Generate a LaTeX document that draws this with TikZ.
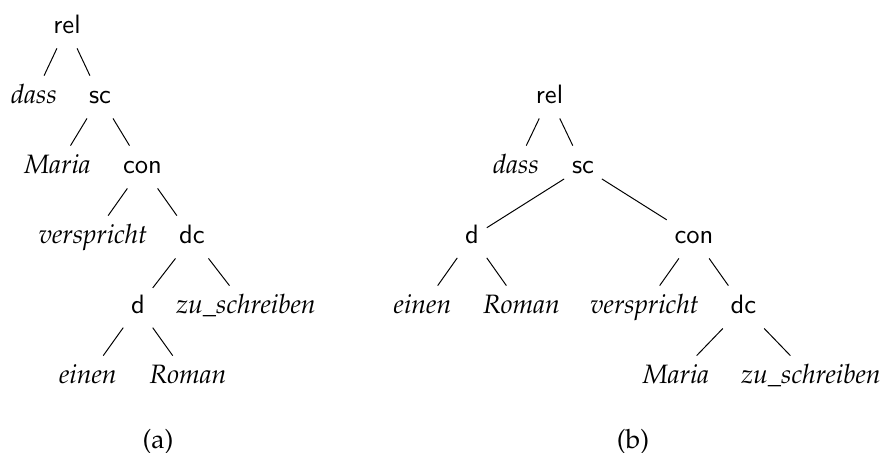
\documentclass[tikz,border=0pt]{standalone}
\IfFileExists{mathpazo.sty}
	{\usepackage[T1]{fontenc}\usepackage{mathpazo}}
	{\usepackage{fontspec}\setmainfont{Liberation Serif}}
\newcommand{\treesize}{\fontsize{10.8pt}{13pt}\selectfont}
\newcommand{\catfont}{\fontencoding{TU}\fontfamily{lmss}\selectfont}
\begin{document}
\begin{tikzpicture}
	[every node/.style={rectangle, inner sep=3pt, text height=8pt, text depth=3pt},
	cat/.style={font=\catfont\treesize},
	word/.style={font=\itshape\treesize},
	caption/.style={font=\treesize, anchor=base},
	level distance=1cm]
	\useasboundingbox (0,0) rectangle (12.571,-6.471);
	% tree (a)
	\begin{scope}
		[level 1/.style={sibling distance=0.943cm},
		level 2/.style={sibling distance=1.214cm},
		level 3/.style={sibling distance=1.414cm},
		level 4/.style={sibling distance=1.543cm},
		level 5/.style={sibling distance=1.429cm}]
		\node[cat] (arel) at (0.957,-0.386) {rel}
		child
		{
			node[word] (adass) {dass}
		}
		child
		{
			node[cat] (asc) {sc}
			child
			{
				node[word] (amaria) {Maria}
			}
			child
			{
				node[cat] (acon) {con}
				child
				{
					node[word] (averspricht) {verspricht}
				}
				child
				{
					node[cat] (adc) {dc}
					child
					{
						node[cat] (ad) {d}
						child
						{
							node[word] (aeinen) {einen}
						}
						child
						{
							node[word] (aroman) {Roman}
						}
					}
					child
					{
						node[word] (azu) {zu\_schreiben}
					}
				}
			}
		};
	\end{scope}
	% tree (b)
	\begin{scope}
		[level 1/.style={sibling distance=0.957cm},
		level 2/.style={sibling distance=3.171cm},
		level 3/.style={sibling distance=1.414cm},
		level 4/.style={sibling distance=1.929cm}]
		\node[cat] (brel) at (7.85,-1.386) {rel}
		child
		{
			node[word] (bdass) {dass}
		}
		child
		{
			node[cat] (bsc) {sc}
			child
			{
				node[cat] (bd) {d}
				child
				{
					node[word] (beinen) {einen}
				}
				child
				{
					node[word] (broman) {Roman}
				}
			}
			child
			{
				node[cat] (bcon) {con}
				child
				{
					node[word] (bverspricht) {verspricht}
				}
				child
				{
					node[cat] (bdc) {dc}
					child
					{
						node[word] (bmaria) {Maria}
					}
					child
					{
						node[word] (bzu) {zu\_schreiben}
					}
				}
			}
		};
	\end{scope}
	% captions
	\node[caption] (acaption) at (2.257,-6.4) {(a)};
	\node[caption] (bcaption) at (9.043,-6.4) {(b)};
\end{tikzpicture}
\end{document}
